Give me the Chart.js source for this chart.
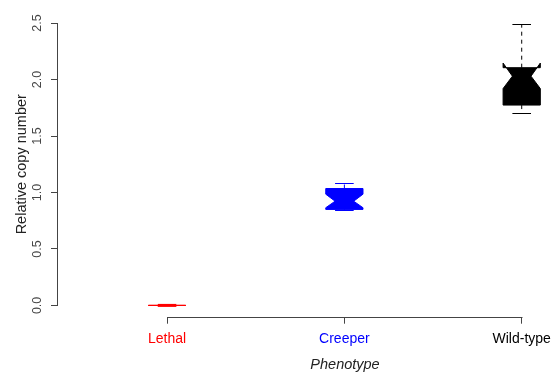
<!DOCTYPE html>
<html>
<head>
<meta charset="utf-8">
<script src="https://cdn.jsdelivr.net/npm/chart.js@4.4.1/dist/chart.umd.min.js"></script>
<style>
    html, body { margin: 0; padding: 0; background: #fff; }
    /* the figure is cropped on the right, like the original */
    #wrap { width: 554px; height: 376px; overflow: hidden; }
</style>
</head>
<body>
<div id="wrap"><canvas id="copyChart" width="632" height="376"></canvas></div>
<script>
// ── data ──────────────────────────────────────────────────
const phenotypes = ['Lethal', 'Creeper', 'Wild-type'];
const phenotypeColors = ['#ff0000', '#0000ff', '#000000'];
const whiskerLow = [0, 0.842, 1.70];
const lowerQuartile = [0, 0.850, 1.774];
const notchLow = [0, 0.865, 1.92];
const medians = [0, 0.923, 2.03];
const notchHigh = [0, 0.985, 2.146];
const upperQuartile = [0, 1.035, 2.105];
const whiskerHigh = [0, 1.084, 2.49];
const yTicks = [0, 0.5, 1, 1.5, 2, 2.5];

const FONT = "'Liberation Sans', Arial, sans-serif";
const AXIS_COLOR = '#444';
const TEXT_COLOR = '#222';
const BOX_HALF = 0.105;   // half box width, in category units

// ── notched boxes + R-style axis lines ───────────────────
const notchedBoxes = {
    id: 'notchedBoxes',
    afterDatasetsDraw(chart) {
        const {ctx, chartArea, scales: {x, y}} = chart;
        const halfW = x.getPixelForValue(1 + BOX_HALF) - x.getPixelForValue(1);
        const py = v => y.getPixelForValue(v);
        ctx.save();
        ctx.lineWidth = 1;

        phenotypes.forEach((name, i) => {
            const cx = x.getPixelForValue(i + 1);
            const col = phenotypeColors[i];
            ctx.strokeStyle = col;
            ctx.fillStyle = col;

            // whiskers
            ctx.setLineDash([4, 4]);
            ctx.beginPath();
            ctx.moveTo(cx, py(upperQuartile[i]));
            ctx.lineTo(cx, py(whiskerHigh[i]));
            ctx.moveTo(cx, py(lowerQuartile[i]));
            ctx.lineTo(cx, py(whiskerLow[i]));
            ctx.stroke();
            ctx.setLineDash([]);

            // staples
            ctx.beginPath();
            [whiskerLow[i], whiskerHigh[i]].forEach(v => {
                const yy = Math.round(py(v)) + 0.5;
                ctx.moveTo(cx - halfW / 2, yy);
                ctx.lineTo(cx + halfW / 2, yy);
            });
            ctx.stroke();

            // box with notch (same outline as R's bxp)
            const pts = [
                [-1, lowerQuartile], [1, lowerQuartile], [1, notchLow], [0.5, medians],
                [1, notchHigh], [1, upperQuartile], [-1, upperQuartile], [-1, notchHigh],
                [-0.5, medians], [-1, notchLow]
            ];
            ctx.beginPath();
            pts.forEach(([f, arr], k) => {
                const px = cx + f * halfW, yy = py(arr[i]);
                if (k) ctx.lineTo(px, yy); else ctx.moveTo(px, yy);
            });
            ctx.closePath();
            ctx.fill();
            ctx.stroke();

            // median
            ctx.lineWidth = 3;
            ctx.beginPath();
            ctx.moveTo(cx - halfW / 2, py(medians[i]));
            ctx.lineTo(cx + halfW / 2, py(medians[i]));
            ctx.stroke();
            ctx.lineWidth = 1;
        });

        // axis lines only between first and last tick
        ctx.strokeStyle = AXIS_COLOR;
        const ax = Math.round(chartArea.left) - 0.5;
        const ay = Math.round(chartArea.bottom) + 0.5;
        ctx.beginPath();
        ctx.moveTo(ax, Math.round(py(yTicks[0])) + 0.5);
        ctx.lineTo(ax, Math.round(py(yTicks[yTicks.length - 1])) + 0.5);
        ctx.moveTo(Math.round(x.getPixelForValue(1)) + 0.5, ay);
        ctx.lineTo(Math.round(x.getPixelForValue(phenotypes.length)) + 0.5, ay);
        ctx.stroke();
        ctx.restore();
    }
};

new Chart(document.getElementById('copyChart'), {
    type: 'scatter',
    data: {
        datasets: [{
            label: 'Median',
            data: medians.map((m, i) => ({x: i + 1, y: m})),
            pointRadius: 0
        }]
    },
    options: {
        responsive: false,
        animation: false,
        layout: {padding: {top: 9.3, right: 0, bottom: 0, left: 0}},
        plugins: {legend: {display: false}, tooltip: {enabled: false}},
        scales: {
            x: {
                type: 'linear',
                min: 0.385,
                max: 3.622,
                afterBuildTicks: s => { s.ticks = phenotypes.map((p, i) => ({value: i + 1})); },
                afterFit: s => { s.height = 59.3; s.paddingLeft = 0; s.paddingRight = 0; },
                border: {display: false},
                grid: {drawOnChartArea: false, tickLength: 7, color: AXIS_COLOR},
                ticks: {
                    autoSkip: false,
                    maxRotation: 0,
                    padding: 7.5,
                    color: ctx => phenotypeColors[ctx.index],
                    font: {family: FONT, size: 14},
                    callback: (v, i) => phenotypes[i]
                },
                title: {
                    display: true,
                    text: 'Phenotype',
                    color: TEXT_COLOR,
                    font: {family: FONT, size: 14.5, style: 'italic'},
                    padding: {top: 0, bottom: 2.3}
                }
            },
            y: {
                min: -0.1,
                max: 2.6,
                afterBuildTicks: s => { s.ticks = yTicks.map(v => ({value: v})); },
                afterFit: s => { s.width = 58; },
                border: {display: false},
                grid: {drawOnChartArea: false, tickLength: 7, color: AXIS_COLOR},
                ticks: {
                    autoSkip: false,
                    minRotation: 90,
                    maxRotation: 90,
                    crossAlign: 'center',
                    padding: 4.3,
                    color: AXIS_COLOR,
                    font: {family: FONT, size: 12.5},
                    callback: v => v.toFixed(1)
                },
                title: {
                    display: true,
                    text: 'Relative copy number',
                    color: TEXT_COLOR,
                    font: {family: FONT, size: 14.5},
                    padding: {top: 13, bottom: 0}
                }
            }
        }
    },
    plugins: [notchedBoxes]
});
</script>
</body>
</html>
